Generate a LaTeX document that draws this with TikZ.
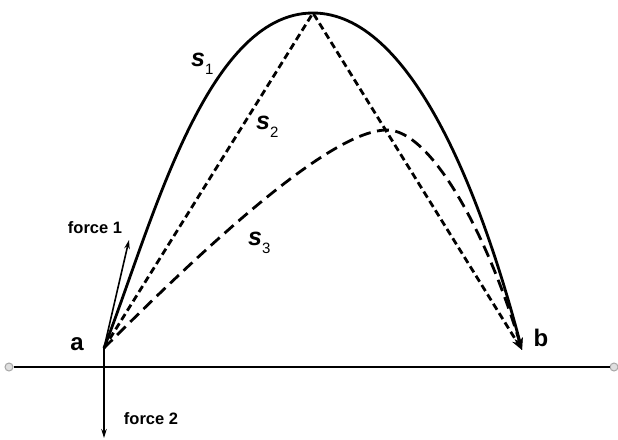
\documentclass[tikz,border=0pt]{standalone}
\usepackage{fontspec}
\setmainfont{Liberation Sans}
\usetikzlibrary{arrows.meta}
\begin{document}
\begin{tikzpicture}[x=1pt,y=-1pt,
  pathline/.style={line width=2.8pt,-{Stealth[length=12pt,width=8pt]}},
  solidpath/.style={pathline},
  shortdash/.style={pathline,dash pattern=on 7pt off 4pt},
  longdash/.style={pathline,dash pattern=on 12pt off 6.5pt},
  force/.style={line width=1.6pt,-{Stealth[length=9pt,width=5.5pt]}},
  ground/.style={line width=2.8pt},
  endpt/.style={circle,draw=gray!70,fill=gray!25,line width=1pt,minimum size=8pt,inner sep=0pt},
  flabel/.style={font=\fontsize{16.5}{16.5}\selectfont\bfseries,inner sep=0pt},
  ptlabel/.style={font=\fontsize{24}{24}\selectfont\bfseries,inner sep=0pt},
  slabel/.style={font=\fontsize{25}{25}\selectfont\bfseries\itshape,inner sep=0pt}]
\useasboundingbox (0,0) rectangle (618,439);
\coordinate (a) at (104,348);
\coordinate (b) at (522,350);
\coordinate (top) at (313,13);
\coordinate (top3) at (387,130);
\coordinate (f1) at (129,240);
\coordinate (f2) at (104,438);
% ground line
\node[endpt] (L) at (9,367) {};
\node[endpt] (R) at (614,367) {};
\draw[ground] (L) -- (R);
% s1 solid curve
\draw[solidpath] (a) .. controls (151,228) and (205,13) .. (top)
  .. controls (410,13) and (480,190) .. (b);
% s2 dashed straight lines
\draw[shortdash] (a) -- (top) -- (b);
% s3 dashed curve
\draw[longdash] (a) .. controls (204,248) and (330,130) .. (top3)
  .. controls (430,130) and (486,230) .. (b);
% forces
\draw[force] (a) -- (f1);
\draw[force] (a) -- (f2);
% labels
\node[flabel] (lf1) at (95,228) {force 1};
\node[flabel] (lf2) at (151,419) {force 2};
\node[ptlabel] (la) at (77,344) {a};
\node[ptlabel] (lb) at (541,338) {b};
\node[slabel,anchor=base west] (ls1) at (191,66) {s\raisebox{-8pt}{\fontsize{15}{15}\selectfont\upshape\mdseries 1}};
\node[slabel,anchor=base west] (ls2) at (256,129) {s\raisebox{-8pt}{\fontsize{15}{15}\selectfont\upshape\mdseries 2}};
\node[slabel,anchor=base west] (ls3) at (248,245) {s\raisebox{-8pt}{\fontsize{15}{15}\selectfont\upshape\mdseries 3}};
\end{tikzpicture}
\end{document}
